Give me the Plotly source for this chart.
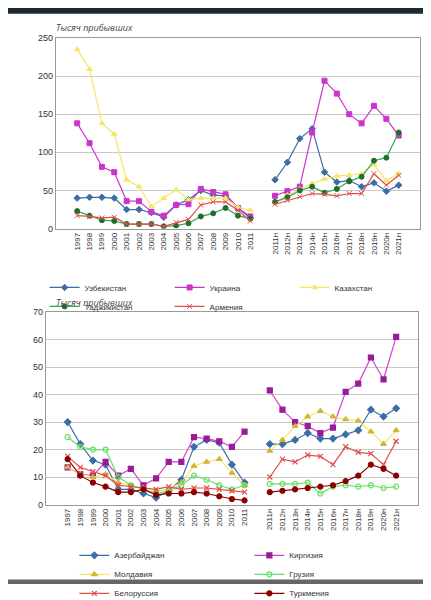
import plotly.graph_objects as go

years_a = [str(y) for y in range(1997, 2012)]
years_b = [f"{y}н" for y in range(2011, 2022)]
gap = " "
cats = years_a + [gap] + years_b

top_names = ["Узбекистан", "Украина", "Казахстан", "Таджикистан", "Армения"]
uzb = [40,41,41,40,25,25,21,15,31,38,50,44,43,27,14] + [64,87,118,131,74,61,63,55,60,49,57]
ukr = [138,112,81,74,36,36,22,17,31,32,52,48,45,27,16] + [43,49,55,126,194,177,150,138,161,144,122]
kaz = [235,209,138,124,64,55,29,40,51,38,40,40,40,28,24] + [35,44,52,59,65,69,70,72,84,63,72]
taj = [23,17,11,10,6,6,6,3,4,7,16,20,27,17,13] + [35,41,50,55,47,52,62,68,89,93,126]
arm = [17,16,14,15,6,6,6,3,8,12,31,35,35,24,10] + [32,37,42,46,45,43,46,46,72,57,70]

bot_names = ["Азербайджан", "Киргизия", "Молдавия", "Грузия", "Белоруссия", "Туркмения"]
aze = [30,22,16,14.5,5.5,5.5,4,2.5,5,9,21,23.5,22.5,14.5,8] + [22,22,23.5,26,24,24,25.5,27,34.5,32,35]
kgz = [13.5,11,10.5,15.5,10.5,13,7,9.5,15.5,15.5,24.5,24,23,21,26.5] + [41.5,34.5,30,28.5,26,28,41,44,53.5,45.5,61]
mda = [13.5,11,10,11,8,7,6,5,5.5,8,14,15.5,16.5,11.5,7] + [19.5,23.5,28.5,32,34,32,31,30.5,26.5,22,27]
geo = [24.5,21,20,20,10,7,5.5,4,5,7,10.5,9,7,5.5,7] + [7.5,7.5,7.5,8,4,6.5,7,6.5,7,6,6.5]
blr = [17.5,13.5,12,10.5,7,6.5,6,5.5,6.5,5.5,6,6,5.5,5,4.5] + [10,16.5,15.5,18,17.5,14.5,21,19,18.5,14.5,23]
tkm = [16.5,10.5,8,6.5,4.5,4.5,5.5,3.5,4,4,4.5,4,3,2,1.5] + [4.5,5,5.5,6,6.5,7,8.5,10.5,14.5,13,10.5]

def with_gap(v):
    return v[:15] + [None] + v[15:]

top_series = [uzb, ukr, kaz, taj, arm]
top_style = [("#3a6ea5", "diamond", None), ("#cc33cc", "square", None),
             ("#f5e663", "triangle-up", None), ("#2fa84f", "circle", "#1e6e2e"),
             ("#e0504a", "x-thin", None)]
bot_series = [aze, kgz, mda, geo, blr, tkm]
bot_style = [("#3a6ea5", "diamond", None), ("#cc44cc", "square", "#9a1a9a"),
             ("#f5e663", "triangle-up", "#d4b43a"), ("#66e066", "circle-open", None),
             ("#e0504a", "x-thin", None), ("#8b0000", "circle", None)]

fig = go.Figure()
for name, vals, (c, sym, mc) in zip(top_names, top_series, top_style):
    fig.add_trace(go.Scatter(x=cats, y=with_gap(vals), name=name, mode="lines+markers",
        line=dict(color=c, width=1.2), marker=dict(symbol=sym, size=5, color=mc or c,
        line=dict(color=mc or c, width=1)), xaxis="x", yaxis="y", legend="legend"))
for name, vals, (c, sym, mc) in zip(bot_names, bot_series, bot_style):
    fig.add_trace(go.Scatter(x=cats, y=with_gap(vals), name=name, mode="lines+markers",
        line=dict(color=c, width=1.2), marker=dict(symbol=sym, size=5, color=mc or c,
        line=dict(color=mc or c, width=1.2)), xaxis="x2", yaxis="y2", legend="legend2"))

ax = dict(type="category", categoryorder="array", categoryarray=cats, tickangle=-90,
          showgrid=False, showline=True, linecolor="#999", mirror=True, automargin=False,
          tickfont=dict(size=8, color="#333", family="Liberation Sans"), ticks="")
ay = dict(showgrid=True, gridcolor="#c8c8c8", showline=True, linecolor="#999", mirror=True,
          zeroline=False, automargin=False,
          tickfont=dict(size=9, color="#333", family="Liberation Sans"), ticks="")
lfont = dict(size=8, family="Liberation Sans", color="#333")

fig.update_layout(
    width=431, height=600, margin=dict(l=0, r=0, t=0, b=0),
    paper_bgcolor="white", plot_bgcolor="white",
    xaxis=dict(ax, domain=[0.111, 0.956], anchor="y"),
    yaxis=dict(ay, domain=[0.617, 0.948], range=[0, 250], dtick=50, anchor="x"),
    xaxis2=dict(ax, domain=[0.088, 0.951], anchor="y2"),
    yaxis2=dict(ay, domain=[0.138, 0.472], range=[0, 70], dtick=10, anchor="x2"),
    legend=dict(orientation="h", x=0.52, xanchor="center", y=1-276/600, yanchor="top",
                entrywidth=80, font=lfont, itemwidth=30, tracegroupgap=0,
                bgcolor="rgba(0,0,0,0)"),
    legend2=dict(orientation="h", x=0.56, xanchor="center", y=1-555/600, yanchor="top",
                 entrywidth=130, font=lfont, itemwidth=30, bgcolor="rgba(0,0,0,0)"),
    annotations=[
        dict(text="<i>Тысяч прибывших</i>", x=46/431, y=1-20/600, xref="paper", yref="paper",
             showarrow=False, xanchor="left", yanchor="middle", font=dict(size=9, color="#444")),
        dict(text="<i>Тысяч прибывших</i>", x=46/431, y=1-307/600, xref="paper", yref="paper",
             showarrow=False, xanchor="left", yanchor="middle", font=dict(size=9, color="#444")),
    ],
    shapes=[dict(type="rect", xref="paper", yref="paper", x0=0, x1=1, y0=0.99, y1=1,
                 fillcolor="#1e2a33", line_width=0, layer="below"),
            dict(type="rect", xref="paper", yref="paper", x0=0, x1=1, y0=0, y1=0.008,
                 fillcolor="#666", line_width=0, layer="below")],
)
fig.write_html("out.html")
